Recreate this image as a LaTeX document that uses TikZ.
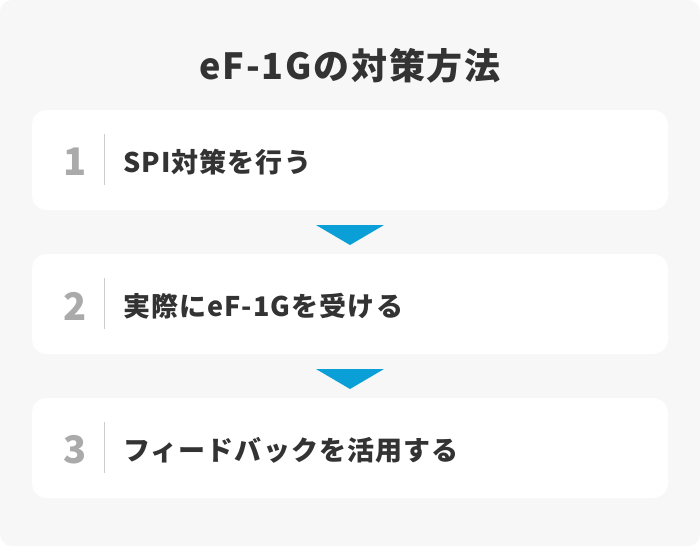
\documentclass[tikz,border=0pt]{standalone}
\usepackage{fontspec}
\setmainfont{Noto Sans CJK JP}
\definecolor{bggray}{HTML}{F7F7F7}
\definecolor{txtdark}{HTML}{333333}
\definecolor{numgray}{HTML}{AAAAAA}
\definecolor{sepgray}{HTML}{CCCCCC}
\definecolor{arrowblue}{HTML}{0A9FD6}
\begin{document}
\begin{tikzpicture}[x=1pt,y=-1pt,every node/.style={inner sep=0pt,text=txtdark},
	stepbox/.style={fill=white,rounded corners=15pt,minimum width=636pt,minimum height=100pt},
	num/.style={text=numgray,font=\fontsize{38}{38}\selectfont\bfseries},
	steptext/.style={anchor=west,font=\fontsize{27}{27}\selectfont\bfseries\addfontfeatures{LetterSpace=4}},
	headline/.style={font=\fontsize{36}{36}\selectfont\bfseries\addfontfeatures{LetterSpace=5}}]
	\useasboundingbox (0,0) rectangle (700,546);
	\fill[white] (0,0) rectangle (700,546);
	\fill[bggray,rounded corners=12pt] (0,0) rectangle (700,546);
	
	\node[headline] (title) at (350,66) {eF-1Gの対策方法};
	
	\node[stepbox] (b1) at (350,160) {};
	\node[stepbox] (b2) at (350,304) {};
	\node[stepbox] (b3) at (350,448) {};
	
	\node[num] (n1) at (75,162) {1};
	\node[num] (n2) at (75,306) {2};
	\node[num] (n3) at (75,450) {3};
	
	\node[steptext] (s1) at (123,162) {SPI対策を行う};
	\node[steptext] (s2) at (123,306) {実際にeF-1Gを受ける};
	\node[steptext] (s3) at (123,450) {フィードバックを活用する};
	
	\coordinate (t1) at (104.5,134); \coordinate (u1) at (104.5,185);
	\coordinate (t2) at (104.5,278); \coordinate (u2) at (104.5,329);
	\coordinate (t3) at (104.5,422); \coordinate (u3) at (104.5,473);
	\draw[sepgray,line width=1.5pt] (t1) -- (u1);
	\draw[sepgray,line width=1.5pt] (t2) -- (u2);
	\draw[sepgray,line width=1.5pt] (t3) -- (u3);
	
	\fill[arrowblue] (316,225) -- (384,225) -- (350,245) -- cycle;
	\fill[arrowblue] (316,369) -- (384,369) -- (350,389) -- cycle;
\end{tikzpicture}
\end{document}
